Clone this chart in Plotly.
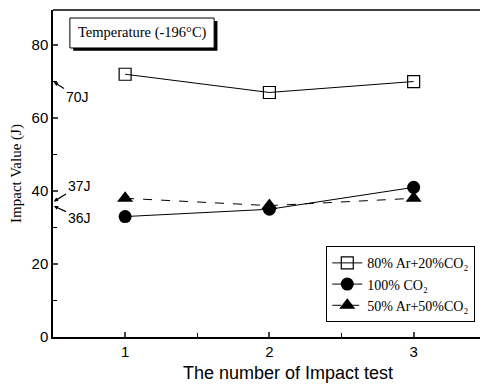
import plotly.graph_objects as go

# Impact test results at -196 °C for three shielding gas mixtures
tests = [1, 2, 3]
ar80_co2_20 = [72, 67, 70]
co2_100 = [33, 35, 41]
ar50_co2_50 = [38, 36, 38]

series_names = ["80% Ar+20%CO₂", "100% CO₂", "50% Ar+50%CO₂"]
ref_labels = ["70J", "37J", "36J"]
ref_values = [70, 37, 36]

serif = "Liberation Serif"
sans = "Liberation Sans"

fig = go.Figure()
fig.add_trace(go.Scatter(
    x=tests, y=ar80_co2_20, name=series_names[0], mode="lines+markers",
    line=dict(color="black", width=1),
    marker=dict(symbol="square-open", size=12, color="black", line=dict(width=1.2)),
))
fig.add_trace(go.Scatter(
    x=tests, y=co2_100, name=series_names[1], mode="lines+markers",
    line=dict(color="black", width=1),
    marker=dict(symbol="circle", size=13, color="black"),
))
fig.add_trace(go.Scatter(
    x=tests, y=ar50_co2_50, name=series_names[2], mode="lines+markers",
    line=dict(color="black", width=1, dash="dash"),
    marker=dict(symbol="triangle-up", size=14, color="black"),
))

# Top frame line (no right-hand border)
fig.add_shape(type="line", xref="paper", yref="paper", x0=0, x1=1, y0=1, y1=1,
              line=dict(color="black", width=1.5))

# Temperature label box with drop shadow
fig.add_shape(type="rect", xref="x", yref="y", x0=0.64, x1=1.64, y0=78.4, y1=86.6,
              fillcolor="black", line=dict(width=0), layer="above")
fig.add_shape(type="rect", xref="x", yref="y", x0=0.617, x1=1.617, y0=79.2, y1=87.4,
              fillcolor="white", line=dict(color="black", width=1), layer="above")
fig.add_annotation(x=1.117, y=83.3, xref="x", yref="y", text="Temperature (-196°C)",
                   showarrow=False, font=dict(family=serif, size=14.5, color="black"))

# Reference values marked on the y axis
offsets = [(24, 15), (26, -16), (26, 12)]
for lab, val, (ax, ay) in zip(ref_labels, ref_values, offsets):
    fig.add_annotation(x=0.5, y=val, xref="x", yref="y", text=lab,
                       showarrow=True, arrowhead=2, arrowsize=0.7, arrowwidth=1.2,
                       arrowcolor="black", ax=ax, ay=ay, standoff=1,
                       font=dict(family=sans, size=14, color="black"))

# X axis title
fig.add_annotation(x=0.55, y=-0.11, xref="paper", yref="paper", yanchor="middle",
                   text="The number of Impact test", showarrow=False,
                   font=dict(family=sans, size=18, color="black"))

fig.update_layout(
    width=486, height=384,
    margin=dict(l=53, r=6, t=10, b=47),
    paper_bgcolor="white", plot_bgcolor="white",
    showlegend=True,
    legend=dict(x=0.64, y=0.045, xanchor="left", yanchor="bottom",
                bgcolor="white", bordercolor="black", borderwidth=1,
                font=dict(family=serif, size=14, color="black"),
                itemwidth=30, tracegroupgap=0),
    xaxis=dict(range=[0.5, 3.46], tickvals=[1, 2, 3], ticks="inside", ticklen=5,
               showgrid=False, zeroline=False, showline=True, linecolor="black",
               linewidth=1.5, tickwidth=1.5,
               minor=dict(tickvals=[1.5, 2.5], ticks="inside", ticklen=4,
                          tickwidth=1.2, tickcolor="black"),
               tickfont=dict(family=sans, size=15, color="black")),
    yaxis=dict(range=[0, 89.6], tickvals=[0, 20, 40, 60, 80], ticks="inside", ticklen=5,
               showgrid=False, zeroline=False, showline=True, linecolor="black",
               linewidth=1.5, tickwidth=1.5,
               minor=dict(tickvals=[10, 30, 50, 70], ticks="inside", ticklen=4,
                          tickwidth=1.2, tickcolor="black"),
               tickfont=dict(family=sans, size=15, color="black"),
               title=dict(text="Impact Value (J)",
                          font=dict(family=serif, size=15, color="black"), standoff=6)),
)

fig.write_html("out.html")
